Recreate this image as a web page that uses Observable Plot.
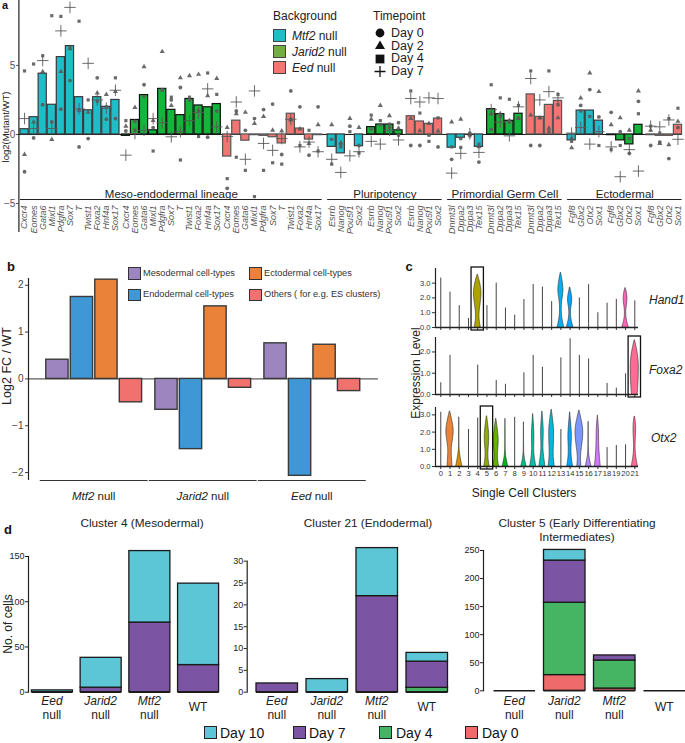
<!DOCTYPE html>
<html>
<head>
<meta charset="utf-8">
<script src="https://cdn.jsdelivr.net/npm/d3@7"></script>
<script src="https://cdn.jsdelivr.net/npm/@observablehq/plot@0.6"></script>
<style>
html,body{margin:0;padding:0;background:#fff;}
#root{position:relative;width:685px;height:743px;overflow:hidden;font-family:"Liberation Sans",Arial,Helvetica,sans-serif;color:#222;}
.t{position:absolute;white-space:nowrap;line-height:1;}
.sw{position:absolute;box-sizing:border-box;}
</style>
</head>
<body>
<div id="root"></div>
<script>
// ================= DATA =================
// ---- Panel a ----
const lineageNames = ["Meso-endodermal lineage", "Pluripotency", "Primordial Germ Cell", "Ectodermal"];
const genesMeso = ["Cxcr4","Eomes","Gata6","Mixl1","Pdgfra","Sox7","T","Twist1","Foxa2","Hnf4a","Sox17"];
const genesPluri = ["Esrrb","Nanog","Pou5f1","Sox2"];
const genesPgc = ["Dnmt3l","Dppa2","Dppa3","Tex15"];
const genesEcto = ["Fgf8","Gbx2","Otx2","Sox1"];
const backgrounds = ["Mtf2","Jarid2","Eed"];
const timepoints = ["Day 0","Day 2","Day 4","Day 7"];

const barsMesoMtf2   = [0.38,1.25,4.4,2.15,5.6,6.4,2.7,1.75,2.7,2.0,2.5];
const barsMesoJarid2 = [-0.1,1.05,2.85,0.3,3.3,1.78,1.4,2.57,2.1,1.97,2.2];
const barsMesoEed    = [-1.6,1.0,-0.45,-0.05,-0.1,-0.2,-0.65,1.5,0.43,-0.37,-0.05];
const barsPluriMtf2   = [-0.9,-1.37,0.0,-0.85];
const barsPluriJarid2 = [0.53,0.72,0.72,0.3];
const barsPluriEed    = [1.32,0.94,0.77,1.15];
const barsPgcMtf2   = [-0.96,-0.24,0.0,-0.9];
const barsPgcJarid2 = [1.83,1.47,0.99,1.5];
const barsPgcEed    = [2.9,1.27,2.14,2.43];
const barsEctoMtf2   = [-0.43,1.73,1.73,1.0];
const barsEctoJarid2 = [-0.05,-0.43,-0.72,0.7];
const barsEctoEed    = [-0.05,-0.1,-0.1,0.7];

// replicate points [Day 0, Day 2, Day 4, Day 7]
const ptsMesoMtf2 = [[-2.7,-1.45,4.6,1.15],[-0.25,0.9,5.1,0.43],[2.15,4.55,5.7,5.35],[0.9,-0.36,8.6,0.43],[1.83,4.55,8.55,7.5],[3.9,6.2,6.3,9.2],[-0.9,1.75,8.2,1.85],[-0.3,1.6,2.5,5.15],[4.1,3.0,2.4,2.5],[1.1,2.9,2.0,1.9],[1.15,3.1,4.1,3.2]];
const ptsMesoJarid2 = [[0.25,0.6,1.0,-1.5],[0.95,1.95,0.3,0.07],[3.6,4.9,2.75,0.3],[0.5,1.0,-1.2,1.15],[3.25,6.0,3.2,0.85],[2.5,2.1,2.7,-0.17],[3.4,4.1,-1.85,0.2],[2.5,4.25,2.7,1.0],[1.75,4.35,-0.15,1.6],[-0.2,2.8,4.45,3.3],[1.7,4.05,2.9,0.55]];
const ptsMesoEed = [[-3.9,0.5,-3.2,-0.15],[1.7,1.5,-1.65,2.35],[0.3,1.6,-2.6,-1.8],[1.15,0.8,-4.5,3.15],[1.8,1.3,-2.6,-0.65],[2.2,0.3,-2.05,-1.15],[-1.45,0.25,-2.15,-0.3],[3.15,1.05,1.1,1.1],[2.0,0.4,-0.8,-0.9],[-1.5,-0.65,0.3,-0.55],[2.0,0.7,-1.2,-1.25]];
const ptsPluriMtf2 = [[-0.35,0.7,-2.15,-1.8],[-0.7,-0.6,-0.9,-2.75],[0.6,1.15,0.2,-1.55],[-0.8,0.5,-1.35,-1.25]];
const ptsPluriJarid2 = [[0.4,1.1,1.4,-0.5],[0.7,2.1,1.0,-0.7],[0.5,1.35,0.75,0.3],[0.85,0.45,-0.05,-0.4]];
const ptsPluriEed = [[-0.8,1.15,3.15,2.6],[-0.8,0.27,1.55,2.35],[-0.05,0.8,-0.5,2.65],[-0.9,0.25,1.2,2.6]];
const ptsPgcMtf2 = [[-1.8,0.9,-0.9,-2.8],[-0.3,1.1,-0.94,-1.37],[0.1,0.0,-0.1,0.05],[-2.0,-0.9,-0.7,-1.3]];
const ptsPgcJarid2 = [[0.35,1.5,3.6,1.8],[1.3,1.5,2.65,0.9],[0.9,1.0,2.55,-0.1],[1.2,1.15,2.1,2.0]];
const ptsPgcEed = [[-0.8,1.4,4.6,4.05],[-0.8,1.2,1.2,2.5],[0.2,0.45,4.6,3.1],[2.15,1.2,2.9,2.65]];
const ptsEctoMtf2 = [[-0.3,-0.97,-0.5,0.1],[2.1,2.64,1.7,0.5],[3.25,4.45,1.3,-0.7],[1.27,3.1,-0.8,0.2]];
const ptsEctoJarid2 = [[1.6,0.7,-1.1,-0.9],[0.2,1.2,-0.8,-3.06],[-1.37,0.3,-0.3,-1.1],[2.4,3.15,1.5,-2.65]];
const ptsEctoEed = [[-0.8,0.3,0.6,0.6],[-0.55,-0.65,0.1,0.55],[-1.75,-0.75,1.15,1.05],[0.5,0.95,1.9,-0.35]];

// ---- Panel b ----
const bGroups = ["Mtf2","Jarid2","Eed"];
const bTypes = ["Mesodermal cell-types","Endodermal cell-types","Ectodermal cell-types","Others ( for e.g. ES clusters)"];
const bMtf2   = [0.41,1.75,2.12,-0.5];
const bJarid2 = [-0.66,-1.5,1.55,-0.19];
const bEed    = [0.76,-2.07,0.73,-0.26];
const bTicks  = [-2,-1,0,1,2];

// ---- Panel c ----
const clusterIds = [0,1,2,3,4,5,6,7,8,9,10,11,12,13,14,15,16,17,18,19,20,21];
const cGenes = ["Hand1","Foxa2","Otx2"];
const hand1Max = [3.34,2.39,1.48,0.61,3.57,1.48,3.0,1.32,0.84,1.89,2.91,2.73,1.75,3.7,2.7,2.0,2.9,1.0,1.64,1.9,2.66,1.8];
const foxa2Max = [0.55,1.84,null,null,1.38,null,0.66,0.48,null,1.02,1.84,1.28,null,1.72,2.62,1.84,1.67,null,0.52,0.3,0.97,2.55];
const otx2Max  = [3.15,3.2,2.86,2.15,2.82,2.92,2.77,2.77,2.86,2.57,3.05,3.2,3.3,2.15,3.15,3.25,2.6,2.96,1.1,1.22,1.26,2.9];
// violin relative widths, bottom -> top
const hand1Violins = [
  [4,  [0.75,0.35,0.45,0.8,1.0,0.65,0.05]],
  [13, [0.8,0.3,0.15,0.3,0.75,0.45,0.05]],
  [14, [0.8,0.35,0.15,0.25,0.6,0.4,0.05]],
  [20, [0.8,0.3,0.12,0.2,0.5,0.45,0.05]]
];
const foxa2Violins = [
  [21, [0.7,0.85,0.95,1.0,0.9,0.55,0.05]]
];
const otx2Violins = [
  [1,  [0.6,0.45,0.35,0.75,1.0,0.55,0.05]],
  [2,  [0.75,0.35,0.06,0.04,0.03,0.02,0.01]],
  [5,  [0.65,0.3,0.35,0.55,0.55,0.3,0.04]],
  [6,  [0.7,0.35,0.45,0.65,0.55,0.3,0.04]],
  [7,  [0.7,0.2,0.04,0.03,0.03,0.02,0.01]],
  [9,  [0.65,0.2,0.04,0.03,0.02,0.02,0.01]],
  [10, [0.75,0.35,0.2,0.3,0.3,0.15,0.02]],
  [11, [0.75,0.4,0.2,0.3,0.35,0.2,0.02]],
  [12, [0.75,0.45,0.5,0.6,0.6,0.35,0.03]],
  [14, [0.7,0.35,0.3,0.45,0.4,0.2,0.02]],
  [15, [0.5,0.3,0.6,0.9,1.0,0.55,0.05]],
  [16, [0.7,0.25,0.06,0.04,0.03,0.02,0.01]],
  [17, [0.7,0.5,0.35,0.3,0.3,0.2,0.02]],
  [21, [0.75,0.35,0.15,0.2,0.3,0.35,0.05]]
];

// ---- Panel d ----
const genotypes = ["Eed","Jarid2","Mtf2","WT"];
const dDays = ["Day 0","Day 4","Day 7","Day 10"];
// counts per genotype [Eed, Jarid2, Mtf2, WT]
const c4Day0 = [0,0,0,0],   c4Day4 = [0,0,0,0],   c4Day7 = [0,5,77,30],   c4Day10 = [2,33,79,90];
const c21Day0 = [0,0,0,0],  c21Day4 = [0,0,0,1],  c21Day7 = [2,0,22,6],   c21Day10 = [0,3,11,2];
const c5Day0 = [0,28,4,0],  c5Day4 = [0,129,50,0], c5Day7 = [0,75,9,0],   c5Day10 = [0,19,0,0];

// ================= STYLE / LAYOUT =================
const FONT = '"Liberation Sans", Arial, Helvetica, sans-serif';
const bgFill = {Mtf2: "#1fbdc8", Jarid2: "#15b53b", Eed: "#f17570"};
const bgStroke = {Mtf2: "#3a3a3a", Jarid2: "#111111", Eed: "#555555"};
const legendFill = {Mtf2: "#1fbdc8", Jarid2: "#72ad40", Eed: "#f17570"};
const bColors = ["#9d86bf","#3f98d5","#ea823a","#f0716d"];
const dColors = ["#ef6b6b","#46b563","#7b55a3","#5cc6d6"];
const PT = "#5a5a5a";
const root = document.getElementById("root");

function put(node, left, top) {
  node.style.position = "absolute"; node.style.left = left + "px"; node.style.top = top + "px";
  root.appendChild(node); return node;
}
function txt(html, x, y, o = {}) {
  const el = document.createElement("div");
  el.className = "t"; el.innerHTML = html;
  el.style.left = x + "px"; el.style.top = y + "px";
  el.style.fontSize = (o.size || 12) + "px";
  el.style.color = o.color || "#222";
  if (o.bold) el.style.fontWeight = "bold";
  if (o.italic) el.style.fontStyle = "italic";
  const ax = o.anchor === "start" ? "0" : o.anchor === "end" ? "-100%" : "-50%";
  el.style.transform = `translate(${ax},-50%)` + (o.rotate ? ` rotate(${o.rotate}deg)` : "");
  root.appendChild(el); return el;
}
function box(x, y, w, h, fill, stroke, sw = 1) {
  const el = document.createElement("div"); el.className = "sw";
  Object.assign(el.style, {left: x + "px", top: y + "px", width: w + "px", height: h + "px", background: fill, border: `${sw}px solid ${stroke}`});
  root.appendChild(el); return el;
}
// ggplot-style hue palette colour (polar LUV, c = 100, l = 65)
function hclLuv(h, c, l) {
  const hr = h * Math.PI / 180, U = c * Math.cos(hr), V = c * Math.sin(hr);
  const Y = l > 8 ? Math.pow((l + 16) / 116, 3) : l / 903.3;
  const un = 0.19784, vn = 0.46834;
  const up = U / (13 * l) + un, vp = V / (13 * l) + vn;
  const X = Y * 9 * up / (4 * vp), Z = Y * (12 - 3 * up - 20 * vp) / (4 * vp);
  const lin = [3.2406 * X - 1.5372 * Y - 0.4986 * Z, -0.9689 * X + 1.8758 * Y + 0.0415 * Z, 0.0557 * X - 0.2040 * Y + 1.0570 * Z];
  const g = v => { v = Math.max(0, Math.min(1, v)); return Math.round(255 * (v <= 0.0031308 ? 12.92 * v : 1.055 * Math.pow(v, 1 / 2.4) - 0.055)); };
  return d3.rgb(g(lin[0]), g(lin[1]), g(lin[2])).formatHex();
}

// ================= PANEL a =================
const LIN_GAP = 0.5;
const lineageSets = [
  {name: lineageNames[0], genes: genesMeso,  bars: [barsMesoMtf2, barsMesoJarid2, barsMesoEed],    pts: [ptsMesoMtf2, ptsMesoJarid2, ptsMesoEed],    bgGap: 0.15},
  {name: lineageNames[1], genes: genesPluri, bars: [barsPluriMtf2, barsPluriJarid2, barsPluriEed], pts: [ptsPluriMtf2, ptsPluriJarid2, ptsPluriEed], bgGap: 0.35},
  {name: lineageNames[2], genes: genesPgc,   bars: [barsPgcMtf2, barsPgcJarid2, barsPgcEed],       pts: [ptsPgcMtf2, ptsPgcJarid2, ptsPgcEed],       bgGap: 0.35},
  {name: lineageNames[3], genes: genesEcto,  bars: [barsEctoMtf2, barsEctoJarid2, barsEctoEed],    pts: [ptsEctoMtf2, ptsEctoJarid2, ptsEctoEed],    bgGap: 0.35}
];
const aRows = [], aSpans = [];
let pos = -1;
lineageSets.forEach((L, li) => {
  if (li > 0) pos += LIN_GAP;
  const start = pos + 1;
  backgrounds.forEach((bg, bi) => {
    if (bi > 0) pos += L.bgGap;
    L.genes.forEach((g, gi) => {
      pos += 1;
      aRows.push({pos, gene: g, bg, value: L.bars[bi][gi], pts: L.pts[bi][gi]});
    });
  });
  aSpans.push({name: L.name, x1: start - 0.45, x2: pos + 0.45});
});
const aPts = aRows.flatMap(r => r.pts.map((v, k) => ({pos: r.pos, v, k})));
const A_XDOM = [-0.62, pos + 0.5];
const A_YDOM = [-5, 9.7];
const HALF = 0.45;
const symDefs = [
  {symbol: "circle", r: 1.9, filled: true},
  {symbol: "triangle", r: 1.9, filled: true},
  {symbol: "square", r: 1.8, filled: true},
  {symbol: "plus", r: 3.8, filled: false}
];

const plotA = Plot.plot({
  width: 685, height: 240, marginLeft: 18.4, marginRight: 3, marginTop: 0, marginBottom: 37,
  style: {fontFamily: FONT, overflow: "visible", color: "#555", background: "transparent", fontSize: "10px"},
  x: {domain: A_XDOM, axis: null},
  y: {domain: A_YDOM, ticks: [-5, 0, 5], tickSize: 2.5, tickPadding: 1, label: null},
  color: {type: "identity"},
  marks: [
    Plot.ruleX([A_XDOM[0]], {y1: A_YDOM[1], y2: -7.1, stroke: "#222", strokeWidth: 1.2}),
    Plot.ruleY([0], {stroke: "#111", strokeWidth: 1}),
    Plot.rect(aRows, {x1: d => d.pos - HALF, x2: d => d.pos + HALF, y1: 0, y2: "value",
      fill: d => bgFill[d.bg], stroke: d => bgStroke[d.bg], strokeWidth: 1.2}),
    ...symDefs.map((s, k) => Plot.dot(aPts.filter(p => p.k === k), {
      x: "pos", y: "v", symbol: s.symbol, r: s.r,
      fill: s.filled ? PT : "none", stroke: s.filled ? "none" : PT, strokeWidth: 0.9, fillOpacity: 0.9
    })),
    Plot.text(aRows, {x: "pos", text: "gene", frameAnchor: "bottom", lineAnchor: "middle", textAnchor: "end",
      rotate: -90, dy: 2, fontSize: 9, fontStyle: "italic", fill: "#555"}),
    Plot.ruleY(aSpans, {x1: "x1", x2: "x2", y: A_YDOM[0], dy: -4, stroke: "#222", strokeWidth: 1.2}),
    Plot.text(aSpans, {x: d => (d.x1 + d.x2) / 2, y: A_YDOM[0], text: "name", lineAnchor: "bottom", dy: -6, fontSize: 11.5, fill: "#222"})
  ]
});
put(plotA, 0, 0);
txt("a", 5, 5, {size: 11, bold: true, color: "#111"});
txt("log2(Mutant/WT)", 5.5, 127, {size: 9.5, rotate: -90});

// legend a
txt("Background", 273, 16, {size: 12, anchor: "start"});
backgrounds.forEach((bg, i) => {
  box(273, 29 + 16 * i, 13, 13, legendFill[bg], "#444", 1);
  txt(`<i>${bg}</i> null`, 292, 35.5 + 16 * i, {size: 12, anchor: "start"});
});
txt("Timepoint", 373, 16, {size: 12, anchor: "start"});
{
  const legSvg = document.createElementNS("http://www.w3.org/2000/svg", "svg");
  legSvg.setAttribute("width", 14); legSvg.setAttribute("height", 52);
  legSvg.innerHTML =
    '<circle cx="7" cy="6" r="4.4" fill="#111"/>' +
    '<polygon points="7,13.5 12,22 2,22" fill="#111"/>' +
    '<rect x="2.6" y="27.6" width="8.8" height="8.8" fill="#111"/>' +
    '<path d="M1.5,44.5H12.5M7,39V50" stroke="#111" stroke-width="1.3"/>';
  put(legSvg, 373, 27);
}
timepoints.forEach((t, i) => txt(t, 391, 33.3 + 12.5 * i, {size: 12.5, anchor: "start"}));

// ================= PANEL b =================
const B_GAP = 0.45;
const bVals = [bMtf2, bJarid2, bEed];
const bRows = [], bSpans = [];
let bp = -1;
bGroups.forEach((g, gi) => {
  if (gi > 0) bp += B_GAP;
  const start = bp + 1;
  bTypes.forEach((t, ti) => { bp += 1; bRows.push({pos: bp, group: g, type: t, ti, value: bVals[gi][ti]}); });
  bSpans.push({group: g, x1: start - 0.7, x2: bp + 0.7, c: (start + bp) / 2});
});
const B_XDOM = [-1.18, 13.1];
const B_YDOM = [-2.17, 2.145];
const plotB = Plot.plot({
  width: 390, height: 230, marginLeft: 28, marginRight: 12, marginTop: 23, marginBottom: 5,
  style: {fontFamily: FONT, overflow: "visible", color: "#444", background: "transparent", fontSize: "10px"},
  x: {domain: B_XDOM, axis: null},
  y: {domain: B_YDOM, ticks: bTicks, tickSize: 3, tickPadding: 2, tickFormat: "d", label: null},
  color: {type: "identity"},
  marks: [
    Plot.ruleX([B_XDOM[0]], {stroke: "#222", strokeWidth: 1.2}),
    Plot.ruleY([0], {stroke: "#333", strokeWidth: 1}),
    Plot.rect(bRows, {x1: d => d.pos - 0.455, x2: d => d.pos + 0.455, y1: 0, y2: "value",
      fill: d => bColors[d.ti], stroke: "#3a3a3a", strokeWidth: 1.4}),
    Plot.ruleY(bSpans, {x1: "x1", x2: "x2", y: B_YDOM[0], stroke: "#333", strokeWidth: 1})
  ]
});
put(plotB, 0, 255);
txt("b", 11, 266, {size: 13, bold: true, color: "#111"});
txt("Log2 FC / WT", 7, 366, {size: 12.5, rotate: -90});
{
  const sx = plotB.scale("x");
  bSpans.forEach(s => txt(`<i>${s.group}</i> null`, sx.apply(s.c), 497, {size: 11.5}));
}
// legend b
[[0, 128, 267], [2, 249, 267], [1, 128, 288.5], [3, 249, 288.5]].forEach(([ti, x, y]) => {
  box(x, y, 12.5, 12.5, bColors[ti], "#333", 1.2);
  txt(bTypes[ti], x + 15, y + 6.5, {size: 9.2, anchor: "start", color: "#333"});
});

// ================= PANEL c =================
const C_XDOM = [-0.57, 21.4];
const VW = 0.45;
const clusterColor = c => hclLuv(15 + 360 * c / 22, 100, 65);
function vlnPlot(maxArr, violins, yTop, yTicks, boxes, showX, height, mb) {
  const vSet = new Set(violins.map(v => v[0]));
  const lines = clusterIds.filter(c => maxArr[c] != null && !vSet.has(c)).map(c => ({c, m: maxArr[c]}));
  const shapes = violins.flatMap(([c, ws]) => ws.map((w, k) => ({c, y: maxArr[c] * k / (ws.length - 1), x1: c - w * VW, x2: c + w * VW})));
  return Plot.plot({
    width: 305, height, marginLeft: 55, marginRight: 47, marginTop: 3, marginBottom: mb,
    style: {fontFamily: FONT, overflow: "visible", color: "#333", background: "transparent", fontSize: "7.6px"},
    x: {domain: C_XDOM, ticks: clusterIds, tickSize: 3, tickPadding: 1, label: null, tickFormat: showX ? (d => String(d)) : (() => "")},
    y: {domain: [0, yTop], ticks: yTicks, tickSize: 3, tickPadding: 2, label: null},
    color: {type: "identity"},
    marks: [
      Plot.ruleX(lines, {x: "c", y1: 0, y2: "m", stroke: "#444", strokeWidth: 1}),
      Plot.areaX(shapes, {y: "y", x1: "x1", x2: "x2", z: "c", fill: d => clusterColor(d.c), stroke: "#333", strokeWidth: 0.6, curve: "basis"}),
      Plot.ruleX([C_XDOM[0]], {stroke: "#222", strokeWidth: 1.2}),
      Plot.ruleY([0], {stroke: "#222", strokeWidth: 1.3}),
      Plot.rect(boxes, {x1: d => d - 0.67, x2: d => d + 0.67, y1: 0, y2: yTop, insetBottom: -3, insetTop: -1, fill: "none", stroke: "#111", strokeWidth: 1.3})
    ]
  });
}
put(vlnPlot(hand1Max, hand1Violins, 3.99, [0,1,2,3], [4], false, 68, 6), 380, 265);
put(vlnPlot(foxa2Max, foxa2Violins, 2.68, [0,1,2], [21], false, 66, 6), 380, 334);
put(vlnPlot(otx2Max, otx2Violins, 3.43, [0,1,2,3], [5], true, 78, 16), 380, 404);
txt("c", 409, 266, {size: 13, bold: true, color: "#111"});
txt(cGenes[0], 649, 300, {size: 12, italic: true, anchor: "start"});
txt(cGenes[1], 649, 370, {size: 12, italic: true, anchor: "start"});
txt(cGenes[2], 651, 438, {size: 12, italic: true, anchor: "start"});
txt("Expression Level", 416, 373, {size: 12, rotate: -90});
txt("Single Cell Clusters", 524, 493, {size: 12});

// ================= PANEL d =================
function dPlot(series, yMax, yTicks, o) {
  const rows = genotypes.flatMap((g, gi) => dDays.map((day, k) => ({g, day, n: series[k][gi]})));
  const p = Plot.plot({
    width: o.width, height: 158, marginLeft: o.ml, marginRight: o.mr, marginTop: o.mt, marginBottom: o.mb,
    style: {fontFamily: FONT, overflow: "visible", color: "#222", background: "transparent", fontSize: "9px"},
    x: {domain: genotypes, axis: null, paddingInner: o.pi, paddingOuter: o.po, align: o.align, round: false},
    y: {domain: [0, yMax], ticks: yTicks, tickSize: 3, tickPadding: 1, label: null},
    color: {domain: dDays, range: dColors},
    marks: [
      Plot.frame({anchor: "left", stroke: "#222", strokeWidth: 1.2}),
      Plot.barY(rows, {x: "g", y: "n", fill: "day", order: dDays, stroke: "#1a1a1a", strokeWidth: 1.3}),
      Plot.tickY(genotypes, {x: d => d, y: 0, stroke: "#1a1a1a", strokeWidth: 1.5})
    ]
  });
  put(p, o.left, 540);
  const sx = p.scale("x");
  genotypes.forEach(g => {
    const cx = o.left + sx.apply(g) + sx.bandwidth / 2;
    if (g === "WT") txt("WT", cx, 707, {size: 12});
    else { txt(g, cx, 701, {size: 12, italic: true}); txt("null", cx, 715, {size: 12}); }
  });
  return p;
}
dPlot([c4Day0, c4Day4, c4Day7, c4Day10], 150, [0,50,100,150],
  {left: 0, width: 228, ml: 28, mr: 6, mt: 16, mb: 6.3, pi: 0.158, po: 0.07, align: 0.5});
dPlot([c21Day0, c21Day4, c21Day7, c21Day10], 30, [0,5,10,15,20,25,30],
  {left: 220, width: 240, ml: 26.7, mr: 3.2, mt: 20.7, mb: 6.3, pi: 0.17, po: 0.186, align: 0.5});
dPlot([c5Day0, c5Day4, c5Day7, c5Day10], 250, [0,50,100,150,200,250],
  {left: 455, width: 230, ml: 28, mr: 0, mt: 10, mb: 7.7, pi: 0.17, po: 0.105, align: 1});
txt("d", 8, 529, {size: 13, bold: true, color: "#111"});
txt("No. of cells", 8, 624, {size: 12, rotate: -90});
txt("Cluster 4 (Mesodermal)", 142, 524, {size: 11.8});
txt("Cluster 21 (Endodermal)", 368, 524, {size: 11.8});
txt("Cluster 5 (Early Differentiating", 577, 524, {size: 11.8});
txt("Intermediates)", 577, 538, {size: 11.8});
// legend d
[[3, 204, 220], [2, 293, 309], [1, 379, 396], [0, 465, 482]].forEach(([k, sx, tx]) => {
  box(sx, 726, 13, 13, dColors[k], "#222", 1.2);
  txt(dDays[k], tx, 733, {size: 14, anchor: "start", color: "#111"});
});
</script>
</body>
</html>
